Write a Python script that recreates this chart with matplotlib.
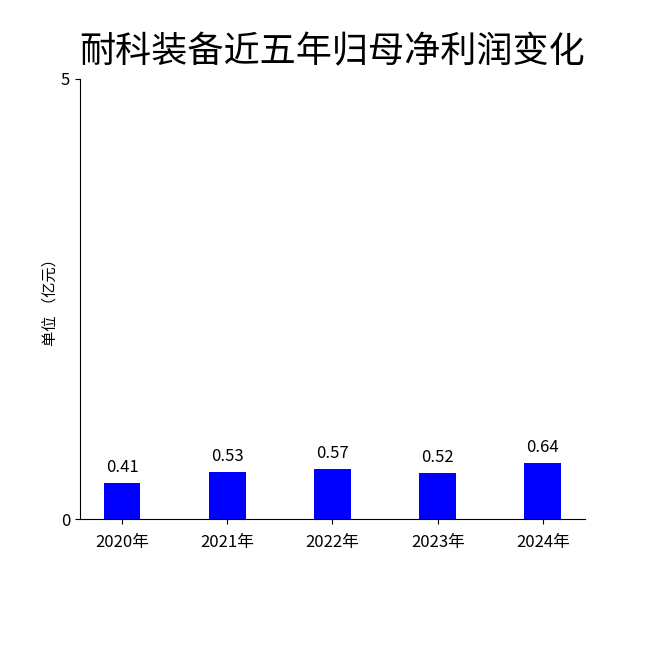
import matplotlib as mpl
from matplotlib import pyplot as plt
import numpy as np

plt.rcParams["font.family"] = ["Noto Sans CJK SC", "DejaVu Sans"]

years = ["2020年", "2021年", "2022年", "2023年", "2024年"]
profit = [0.41, 0.53, 0.57, 0.52, 0.64]

fig = plt.figure(figsize=(6.5, 6.5), dpi=100)
ax = fig.add_axes([0.123, 0.2015, 0.777, 0.677])

x = np.arange(len(years))
bars = ax.bar(x, profit, width=0.35, color="#0000ff")
for xi, v in zip(x, profit):
    ax.text(xi, v + 0.08, "{:.2f}".format(v), ha="center", va="bottom", fontsize=12)

ax.set_xlim(-0.4, 4.4)
ax.set_ylim(0, 5)
ax.set_yticks([0, 5])
ax.set_xticks(x)
ax.set_xticklabels(years, fontsize=12)
ax.tick_params(axis="x", pad=7)
ax.tick_params(axis="y", labelsize=12)
ax.spines["top"].set_visible(False)
ax.spines["right"].set_visible(False)
ax.set_ylabel("单位 （亿元）", fontsize=11, labelpad=2)

fig.text(0.511, 0.92, "耐科装备近五年归母净利润变化", fontsize=26,
         ha="center", va="center")

fig.savefig("out.png", dpi=100)
